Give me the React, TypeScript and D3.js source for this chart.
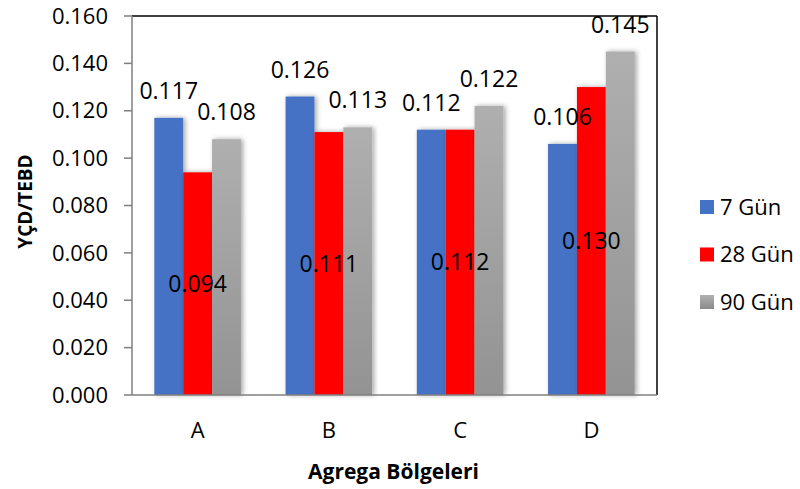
import * as d3 from 'd3';

const categories = ['A', 'B', 'C', 'D'];
const seriesNames = ['7 Gün', '28 Gün', '90 Gün'];
const gun7 = [0.117, 0.126, 0.112, 0.106];
const gun28 = [0.094, 0.111, 0.112, 0.130];
const gun90 = [0.108, 0.113, 0.122, 0.145];
const yTicks = [0, 0.02, 0.04, 0.06, 0.08, 0.1, 0.12, 0.14, 0.16];

const colors = ['#4472C4', '#FF0000', 'url(#greyGrad)'];
const font = "'Open Sans', sans-serif";

export default function App() {
  const width = 800;
  const height = 489;
  const margin = { top: 16, right: 143, bottom: 94, left: 132 };
  const innerW = width - margin.left - margin.right;
  const innerH = height - margin.top - margin.bottom;

  const series = [gun7, gun28, gun90];

  const x = d3.scaleBand<string>().domain(categories).range([0, innerW]).paddingInner(0.34).paddingOuter(0.17);
  const xs = d3.scaleBand<number>().domain([0, 1, 2]).range([0, x.bandwidth()]);
  const y = d3.scaleLinear().domain([0, 0.16]).range([innerH, 0]);

  return (
    <svg width={width} height={height} style={{ position: 'absolute', left: 0, top: 0, background: '#fff' }}>
      <defs>
        <linearGradient id="greyGrad" x1="0" y1="0" x2="0" y2="1">
          <stop offset="0" stopColor="#AFAFAF" />
          <stop offset="1" stopColor="#939393" />
        </linearGradient>
        <linearGradient id="greyGradLeg" x1="0" y1="0" x2="0" y2="1">
          <stop offset="0" stopColor="#B0B0B0" />
          <stop offset="1" stopColor="#8A8A8A" />
        </linearGradient>
        <filter id="shadow" x="-30%" y="-10%" width="160%" height="120%">
          <feDropShadow dx="2" dy="0" stdDeviation="2.5" floodColor="#000" floodOpacity="0.35" />
        </filter>
      </defs>
      <g transform={`translate(${margin.left},${margin.top})`} fontFamily={font}>
        {/* bars */}
        {categories.map((c, ci) => (
          <g key={c} transform={`translate(${x(c)},0)`}>
            {series.map((s, si) => (
              <rect
                key={si}
                x={xs(si)}
                y={y(s[ci])}
                width={xs.bandwidth()}
                height={innerH - y(s[ci])}
                fill={colors[si]}
                filter="url(#shadow)"
              />
            ))}
          </g>
        ))}

        {/* frame */}
        <line x1={0} x2={innerW} y1={0} y2={0} stroke="#000" strokeWidth={1.5} />
        <line x1={innerW} x2={innerW} y1={0} y2={innerH} stroke="#000" strokeWidth={1.5} />
        <line x1={0} x2={0} y1={0} y2={innerH} stroke="#7F7F7F" strokeWidth={1.5} />
        <line x1={0} x2={innerW} y1={innerH} y2={innerH} stroke="#7F7F7F" strokeWidth={1.5} />

        {/* y axis */}
        {yTicks.map(t => (
          <g key={t} transform={`translate(0,${y(t)})`}>
            <line x1={-8} x2={0} stroke="#7F7F7F" strokeWidth={1.5} />
            <text x={-24} dy="0.35em" textAnchor="end" fontSize={22} fill="#000">{d3.format('.3f')(t)}</text>
          </g>
        ))}

        {/* x axis labels */}
        {categories.map(c => (
          <text key={c} x={(x(c) ?? 0) + x.bandwidth() / 2} y={innerH + 35} dy="0.35em" textAnchor="middle" fontSize={22} fill="#000">{c}</text>
        ))}

        {/* data labels */}
        {categories.map((c, ci) => series.map((s, si) => {
          const cx = (x(c) ?? 0) + (xs(si) ?? 0) + xs.bandwidth() / 2;
          const yy = si === 1 ? (y(s[ci]) + innerH) / 2 : y(s[ci]) - 27;
          return (
            <text key={c + si} x={cx} y={yy} dy="0.35em" textAnchor="middle" fontSize={23} fill="#000">
              {d3.format('.3f')(s[ci])}
            </text>
          );
        }))}

        {/* axis titles */}
        <text x={innerW / 2 - 1} y={innerH + 77} dy="0.35em" textAnchor="middle" fontSize={21} fontWeight="bold" fill="#000">Agrega Bölgeleri</text>
        <text transform={`translate(${-107},${innerH / 2 - 4}) rotate(-90)`} dy="0.35em" textAnchor="middle" fontSize={19} fontWeight="bold" fill="#000">YÇD/TEBD</text>
      </g>

      {/* legend */}
      <g fontFamily={font}>
        {seriesNames.map((n, i) => (
          <g key={n} transform={`translate(700,${207 + i * 47.5})`}>
            <rect x={0} y={-7} width={14} height={14} fill={i === 2 ? 'url(#greyGradLeg)' : colors[i]} />
            <text x={20} dy="0.35em" fontSize={22} fill="#000">{n}</text>
          </g>
        ))}
      </g>
    </svg>
  );
}
